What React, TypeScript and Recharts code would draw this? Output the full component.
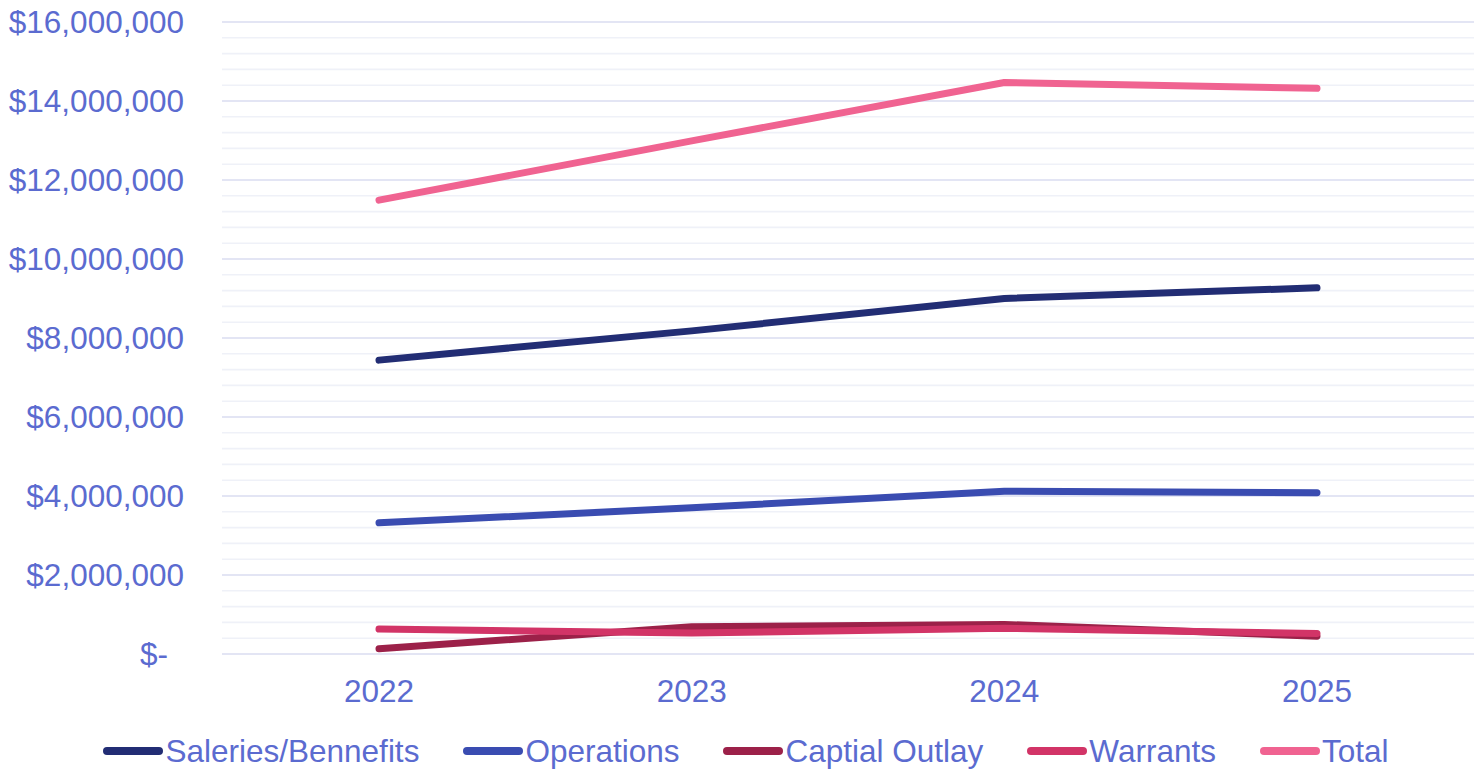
import { LineChart, Line, XAxis, YAxis, CartesianGrid, Legend } from "recharts";

const years = ["2022", "2023", "2024", "2025"];
const salaries = [7440000, 8180000, 9000000, 9270000];
const operations = [3320000, 3700000, 4120000, 4080000];
const capitalOutlay = [130000, 690000, 750000, 450000];
const warrants = [630000, 530000, 650000, 520000];
const totals = [11490000, 12990000, 14470000, 14320000];

// every 400k gets a grid line, every 2M gets a label
const yTicks = [
  0, 400000, 800000, 1200000, 1600000, 2000000, 2400000, 2800000, 3200000, 3600000,
  4000000, 4400000, 4800000, 5200000, 5600000, 6000000, 6400000, 6800000, 7200000,
  7600000, 8000000, 8400000, 8800000, 9200000, 9600000, 10000000, 10400000, 10800000,
  11200000, 11600000, 12000000, 12400000, 12800000, 13200000, 13600000, 14000000,
  14400000, 14800000, 15200000, 15600000, 16000000,
];

const series = [
  { key: "salaries", name: "Saleries/Bennefits", color: "#222d74" },
  { key: "operations", name: "Operations", color: "#3a4cb1" },
  { key: "capital", name: "Captial Outlay", color: "#9c2149" },
  { key: "warrants", name: "Warrants", color: "#d23467" },
  { key: "total", name: "Total", color: "#f06391" },
];

const data = years.map((year, i) => ({
  year,
  salaries: salaries[i],
  operations: operations[i],
  capital: capitalOutlay[i],
  warrants: warrants[i],
  total: totals[i],
}));

const FONT = "Arial, 'Liberation Sans', sans-serif";
const TEXT = "#5b6bd0";

function YTick(props: any) {
  const { x, y, payload } = props;
  const v = payload.value;
  if (v % 2000000 !== 0) return null;
  const label = v === 0 ? "$-" : "$" + v.toLocaleString("en-US");
  return (
    <text
      x={v === 0 ? x - 16 : x}
      y={y}
      dy="0.355em"
      textAnchor="end"
      fill={TEXT}
      fontSize={31.5}
      fontFamily={FONT}
    >
      {label}
    </text>
  );
}

function GridLine(props: any) {
  const { x1, y1, x2, y2, index } = props;
  const major = index % 5 === 0;
  return (
    <line
      x1={x1}
      y1={y1}
      x2={x2}
      y2={y2}
      stroke={major ? "#dadcf1" : "#eff1f8"}
      strokeWidth={1.6}
    />
  );
}

function LegendContent() {
  return (
    <div
      style={{
        display: "flex",
        justifyContent: "center",
        alignItems: "center",
        height: 42,
        paddingLeft: 62,
        fontFamily: FONT,
        fontSize: 31.5,
        color: TEXT,
      }}
    >
      {series.map((s) => (
        <div key={s.key} style={{ display: "flex", alignItems: "center", marginRight: 44 }}>
          <svg width={60} height={12} style={{ marginRight: 2 }}>
            <line x1={4} y1={6} x2={56} y2={6} stroke={s.color} strokeWidth={8} strokeLinecap="round" />
          </svg>
          <span>{s.name}</span>
        </div>
      ))}
    </div>
  );
}

export default function App() {
  return (
    <div style={{ position: "absolute", left: 0, top: 0, background: "#fff" }}>
      <LineChart
        width={1474}
        height={772}
        data={data}
        margin={{ top: 22, right: 0, bottom: 0, left: 0 }}
      >
        <CartesianGrid vertical={false} horizontal={GridLine} />
        <XAxis
          dataKey="year"
          axisLine={false}
          tickLine={false}
          tickSize={0}
          tickMargin={26}
          height={76}
          padding={{ left: 157, right: 157 }}
          tick={{ fill: TEXT, fontSize: 31.5, fontFamily: FONT }}
        />
        <YAxis
          domain={[0, 16000000]}
          ticks={yTicks}
          interval={0}
          axisLine={false}
          tickLine={false}
          tickSize={0}
          tickMargin={38}
          width={222}
          tick={<YTick />}
        />
        <Legend verticalAlign="bottom" height={42} content={<LegendContent />} />
        {series.map((s) => (
          <Line
            key={s.key}
            type="linear"
            dataKey={s.key}
            name={s.name}
            stroke={s.color}
            strokeWidth={7}
            strokeLinecap="round"
            strokeLinejoin="round"
            dot={false}
            activeDot={false}
            isAnimationActive={false}
          />
        ))}
      </LineChart>
    </div>
  );
}
